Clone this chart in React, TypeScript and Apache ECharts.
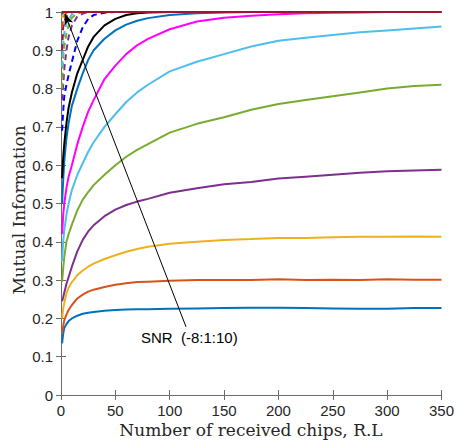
import React, { useEffect, useRef } from "react";
import * as echarts from "echarts";

// Number of received chips (x positions of samples)
const chips = [1, 2, 3, 5, 7, 10, 15, 20, 25, 30, 40, 50, 60, 70, 80, 100, 125, 150, 175, 200, 225, 250, 275, 300, 325, 350];

const xTicks = [0, 50, 100, 150, 200, 250, 300, 350];
const yTicks = [0, 0.1, 0.2, 0.3, 0.4, 0.5, 0.6, 0.7, 0.8, 0.9, 1];

// Mutual information per SNR (dB)
const snrM8 = [0.135, 0.16, 0.175, 0.185, 0.193, 0.2, 0.207, 0.212, 0.215, 0.217, 0.22, 0.222, 0.223, 0.224, 0.224, 0.225, 0.226, 0.227, 0.228, 0.228, 0.227, 0.226, 0.225, 0.225, 0.227, 0.227];
const snrM7 = [0.163, 0.18, 0.195, 0.21, 0.222, 0.235, 0.252, 0.262, 0.27, 0.275, 0.282, 0.288, 0.292, 0.295, 0.296, 0.298, 0.3, 0.3, 0.3, 0.302, 0.3, 0.301, 0.3, 0.302, 0.301, 0.301];
const snrM6 = [0.2, 0.225, 0.24, 0.265, 0.28, 0.295, 0.313, 0.325, 0.335, 0.343, 0.355, 0.365, 0.374, 0.381, 0.387, 0.395, 0.4, 0.405, 0.407, 0.41, 0.41, 0.412, 0.413, 0.413, 0.414, 0.413];
const snrM5 = [0.245, 0.255, 0.267, 0.29, 0.308, 0.335, 0.375, 0.405, 0.427, 0.443, 0.467, 0.484, 0.496, 0.505, 0.512, 0.528, 0.54, 0.55, 0.556, 0.565, 0.57, 0.575, 0.58, 0.584, 0.586, 0.588];
const snrM4 = [0.295, 0.33, 0.36, 0.4, 0.42, 0.445, 0.482, 0.51, 0.53, 0.548, 0.575, 0.6, 0.622, 0.64, 0.655, 0.685, 0.708, 0.725, 0.745, 0.76, 0.77, 0.78, 0.79, 0.8, 0.807, 0.81];
const snrM3 = [0.35, 0.4, 0.43, 0.47, 0.5, 0.535, 0.575, 0.605, 0.635, 0.66, 0.7, 0.733, 0.765, 0.79, 0.81, 0.845, 0.87, 0.89, 0.91, 0.925, 0.933, 0.94, 0.947, 0.952, 0.957, 0.962];
const snrM2 = [0.42, 0.47, 0.5, 0.54, 0.57, 0.6, 0.655, 0.7, 0.74, 0.77, 0.825, 0.86, 0.89, 0.913, 0.93, 0.955, 0.975, 0.985, 0.99, 0.994, 0.997, 0.998, 0.999, 1, 1, 1];
const snrM1 = [0.5, 0.56, 0.61, 0.67, 0.71, 0.755, 0.8, 0.84, 0.875, 0.9, 0.93, 0.952, 0.967, 0.977, 0.984, 0.992, 0.997, 0.999, 1, 1, 1, 1, 1, 1, 1, 1];
const snr0 = [0.566, 0.62, 0.655, 0.71, 0.75, 0.79, 0.84, 0.875, 0.91, 0.935, 0.965, 0.982, 0.992, 0.997, 0.999, 1, 1, 1, 1, 1, 1, 1, 1, 1, 1, 1];
const snrP1 = [0.69, 0.74, 0.78, 0.81, 0.835, 0.87, 0.925, 0.96, 0.982, 0.992, 0.998, 1, 1, 1, 1, 1, 1, 1, 1, 1, 1, 1, 1, 1, 1, 1];
const snrP2 = [0.77, 0.81, 0.85, 0.9, 0.935, 0.965, 0.988, 0.996, 1, 1, 1, 1, 1, 1, 1, 1, 1, 1, 1, 1, 1, 1, 1, 1, 1, 1];
const snrP3 = [0.8, 0.88, 0.91, 0.944, 0.965, 0.985, 0.996, 1, 1, 1, 1, 1, 1, 1, 1, 1, 1, 1, 1, 1, 1, 1, 1, 1, 1, 1];
const snrP4 = [0.857, 0.918, 0.945, 0.97, 0.982, 0.993, 1, 1, 1, 1, 1, 1, 1, 1, 1, 1, 1, 1, 1, 1, 1, 1, 1, 1, 1, 1];
const snrP5 = [0.9, 0.96, 0.975, 0.988, 0.995, 1, 1, 1, 1, 1, 1, 1, 1, 1, 1, 1, 1, 1, 1, 1, 1, 1, 1, 1, 1, 1];
const snrP6 = [0.96, 0.98, 0.99, 0.997, 1, 1, 1, 1, 1, 1, 1, 1, 1, 1, 1, 1, 1, 1, 1, 1, 1, 1, 1, 1, 1, 1];
const snrP7 = [0.985, 0.995, 1, 1, 1, 1, 1, 1, 1, 1, 1, 1, 1, 1, 1, 1, 1, 1, 1, 1, 1, 1, 1, 1, 1, 1];
const snrP8 = [0.995, 1, 1, 1, 1, 1, 1, 1, 1, 1, 1, 1, 1, 1, 1, 1, 1, 1, 1, 1, 1, 1, 1, 1, 1, 1];
const snrP9 = [1, 1, 1, 1, 1, 1, 1, 1, 1, 1, 1, 1, 1, 1, 1, 1, 1, 1, 1, 1, 1, 1, 1, 1, 1, 1];
const snrP10 = [1, 1, 1, 1, 1, 1, 1, 1, 1, 1, 1, 1, 1, 1, 1, 1, 1, 1, 1, 1, 1, 1, 1, 1, 1, 1];

const curves = [
  { name: "-8", data: snrM8, color: "#0072BD", dashed: false },
  { name: "-7", data: snrM7, color: "#D95319", dashed: false },
  { name: "-6", data: snrM6, color: "#EDB120", dashed: false },
  { name: "-5", data: snrM5, color: "#7E2F8E", dashed: false },
  { name: "-4", data: snrM4, color: "#77AC30", dashed: false },
  { name: "-3", data: snrM3, color: "#4DBEEE", dashed: false },
  { name: "-2", data: snrM2, color: "#FF00FF", dashed: false },
  { name: "-1", data: snrM1, color: "#0072BD", dashed: false },
  { name: "0", data: snr0, color: "#000000", dashed: false },
  { name: "1", data: snrP1, color: "#0000FF", dashed: true },
  { name: "2", data: snrP2, color: "#7E2F8E", dashed: true },
  { name: "3", data: snrP3, color: "#77AC30", dashed: true },
  { name: "4", data: snrP4, color: "#4DBEEE", dashed: true },
  { name: "5", data: snrP5, color: "#A2142F", dashed: true },
  { name: "6", data: snrP6, color: "#D95319", dashed: true },
  { name: "7", data: snrP7, color: "#EDB120", dashed: true },
  { name: "8", data: snrP8, color: "#0072BD", dashed: true },
  { name: "9", data: snrP9, color: "#FF00FF", dashed: true },
  { name: "10", data: snrP10, color: "#A2142F", dashed: false },
];

const arrowTail = [115, 0.178];
const arrowHead = [3.6, 0.995];
const annotation = "SNR  (-8:1:10)";
const xTitle = "Number of received chips, R.L";
const yTitle = "Mutual Information";

export default function App() {
  const ref = useRef<HTMLDivElement>(null);
  useEffect(() => {
    if (!ref.current) return;
    const chart = echarts.init(ref.current, undefined, { renderer: "svg" });
    const axisColor = "#6b6b6b";
    const labelStyle = { color: "#262626", fontFamily: "Liberation Sans, Arial, sans-serif", fontSize: 15 };
    const series: any[] = curves.map((c, idx) => ({
      type: "line",
      name: c.name,
      data: chips.map((x, i) => [x, c.data[i]]),
      showSymbol: false,
      symbol: "none",
      silent: true,
      lineStyle: { color: c.color, width: 2, type: c.dashed ? [6, 4] : "solid" },
      z: 2 + idx * 0.01,
    }));
    series[series.length - 1].markLine = {
      silent: true,
      symbol: ["none", "arrow"],
      symbolSize: [7, 11],
      label: { show: false },
      lineStyle: { color: "#000", width: 1, type: "solid" },
      data: [[{ coord: arrowTail }, { coord: arrowHead }]],
    };
    chart.setOption({
      animation: false,
      grid: { left: 61, right: 13, top: 12, bottom: 48, containLabel: false },
      xAxis: [
        {
          type: "value", min: 0, max: 350, interval: 50, position: "bottom",
          axisLine: { lineStyle: { color: axisColor, width: 1 } },
          axisTick: { inside: true, length: 5, lineStyle: { color: axisColor } },
          axisLabel: { ...labelStyle, margin: 8, formatter: (v: number) => (xTicks.includes(v) ? String(v) : "") },
          splitLine: { show: false },
        },
        {
          type: "value", min: 0, max: 350, interval: 50, position: "top",
          axisLine: { show: true, lineStyle: { color: axisColor, width: 1 } },
          axisTick: { show: true, inside: true, length: 5, lineStyle: { color: axisColor } },
          axisLabel: { show: false },
          splitLine: { show: false },
        },
      ],
      yAxis: [
        {
          type: "value", min: 0, max: 1, interval: 0.1, position: "left",
          axisLine: { show: true, lineStyle: { color: axisColor, width: 1 } },
          axisTick: { show: true, inside: true, length: 5, lineStyle: { color: axisColor } },
          axisLabel: { ...labelStyle, margin: 8, formatter: (v: number) => {
            const t = yTicks.find((y) => Math.abs(y - v) < 1e-6);
            return t === undefined ? "" : String(Math.round(t * 10) / 10);
          } },
          splitLine: { show: false },
        },
        {
          type: "value", min: 0, max: 1, interval: 0.1, position: "right",
          axisLine: { show: true, lineStyle: { color: axisColor, width: 1 } },
          axisTick: { show: true, inside: true, length: 5, lineStyle: { color: axisColor } },
          axisLabel: { show: false },
          splitLine: { show: false },
        },
      ],
      series,
      graphic: [
        {
          type: "text", x: 141, y: 337, silent: true,
          style: { text: annotation, fill: "#000", font: "15px 'Liberation Sans', Arial, sans-serif", verticalAlign: "middle", align: "left" },
        },
        {
          type: "text", x: 251, y: 430, silent: true,
          style: { text: xTitle, fill: "#262626", font: "17px 'DejaVu Serif', serif", verticalAlign: "middle", align: "center" },
        },
        {
          type: "text", x: 19, y: 210, rotation: Math.PI / 2, silent: true,
          style: { text: yTitle, fill: "#262626", font: "17px 'DejaVu Serif', serif", verticalAlign: "middle", align: "center" },
        },
      ],
    });
    return () => chart.dispose();
  }, []);
  return <div ref={ref} style={{ width: 457, height: 443, position: "absolute", left: 0, top: 0 }} />;
}
